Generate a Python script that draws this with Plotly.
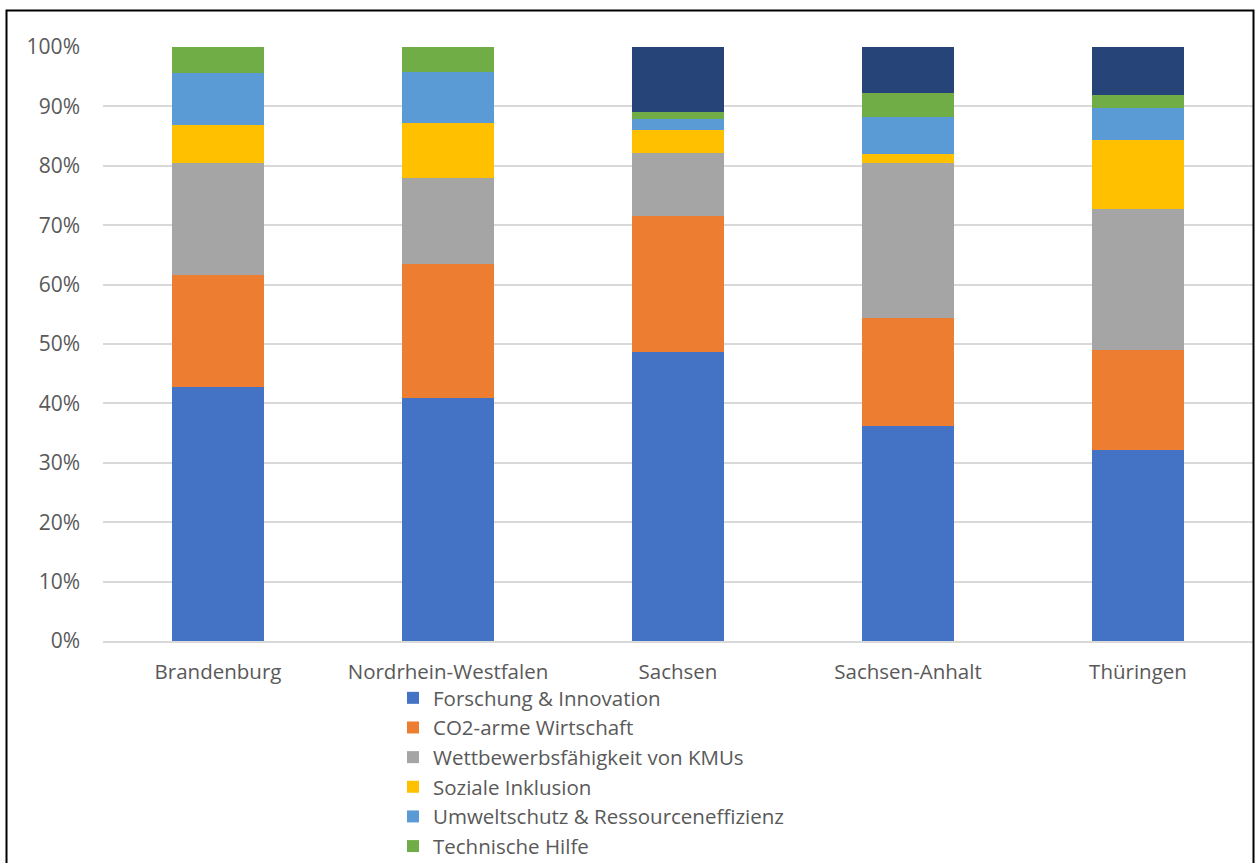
import plotly.graph_objects as go

# Bundesländer und Anteile je Förderschwerpunkt (in %)
regions = ["Brandenburg", "Nordrhein-Westfalen", "Sachsen", "Sachsen-Anhalt", "Thüringen"]

forschung = [42.7, 40.9, 48.6, 36.2, 32.2]
co2_arm = [19.0, 22.6, 23.0, 18.2, 16.8]
kmu = [18.8, 14.4, 10.6, 26.0, 23.7]
inklusion = [6.4, 9.3, 3.8, 1.6, 11.6]
umwelt = [8.7, 8.6, 1.8, 6.3, 5.4]
technische_hilfe = [4.4, 4.2, 1.3, 4.0, 2.3]
weitere = [0.0, 0.0, 10.9, 7.7, 8.0]

series = [
    ("Forschung & Innovation", forschung, "#4472C4", True),
    ("CO2-arme Wirtschaft", co2_arm, "#ED7D31", True),
    ("Wettbewerbsfähigkeit von KMUs", kmu, "#A5A5A5", True),
    ("Soziale Inklusion", inklusion, "#FFC000", True),
    ("Umweltschutz & Ressourceneffizienz", umwelt, "#5B9BD5", True),
    ("Technische Hilfe", technische_hilfe, "#70AD47", True),
    ("Weitere Prioritäten", weitere, "#264478", False),
]

fig = go.Figure()
for i, (name, vals, color, in_legend) in enumerate(series):
    fig.add_trace(go.Bar(
        x=regions,
        y=[v / 100 for v in vals],
        name=name,
        marker=dict(color=color, line=dict(width=0)),
        legendgroup=f"g{i}",
        showlegend=in_legend,
    ))

W, H = 1255, 863
L, R, T, B = 103, 2, 47, 222
pw, ph = W - L - R, H - T - B

def px(x):
    return (x - L) / pw

def py(y):
    return (H - B - y) / ph

font_family = "Open Sans, Liberation Sans, sans-serif"
text_color = "#595959"

fig.update_layout(
    width=W, height=H,
    margin=dict(l=L, r=R, t=T, b=B, autoexpand=False),
    barmode="stack",
    bargap=0.6,
    paper_bgcolor="white",
    plot_bgcolor="white",
    font=dict(family=font_family, size=20.5, color=text_color),
    showlegend=True,
    legend=dict(
        orientation="v",
        xref="container", yref="container",
        x=393 / W, xanchor="left",
        y=1 - 678 / H, yanchor="top",
        traceorder="grouped",
        tracegroupgap=0,
        font=dict(size=20.5, color=text_color),
        bgcolor="rgba(0,0,0,0)",
    ),
    yaxis=dict(
        range=[0, 1],
        dtick=0.1,
        tickformat=".0%",
        showgrid=True,
        gridcolor="#d9d9d9",
        gridwidth=1.5,
        zeroline=False,
        showline=False,
        ticks="",
        ticklabelstandoff=22,
        tickfont=dict(size=21),
        fixedrange=True,
    ),
    xaxis=dict(
        showline=True,
        linecolor="#d9d9d9",
        linewidth=1.5,
        ticks="",
        ticklabelstandoff=12,
        fixedrange=True,
    ),
    shapes=[
        dict(
            type="path",
            xref="paper", yref="paper",
            path=f"M {px(6.5)},{py(880)} L {px(6.5)},{py(10.5)} L {px(1253.5)},{py(10.5)} L {px(1253.5)},{py(880)}",
            line=dict(color="black", width=2),
            layer="above",
        )
    ],
)

fig.write_html("out.html")
